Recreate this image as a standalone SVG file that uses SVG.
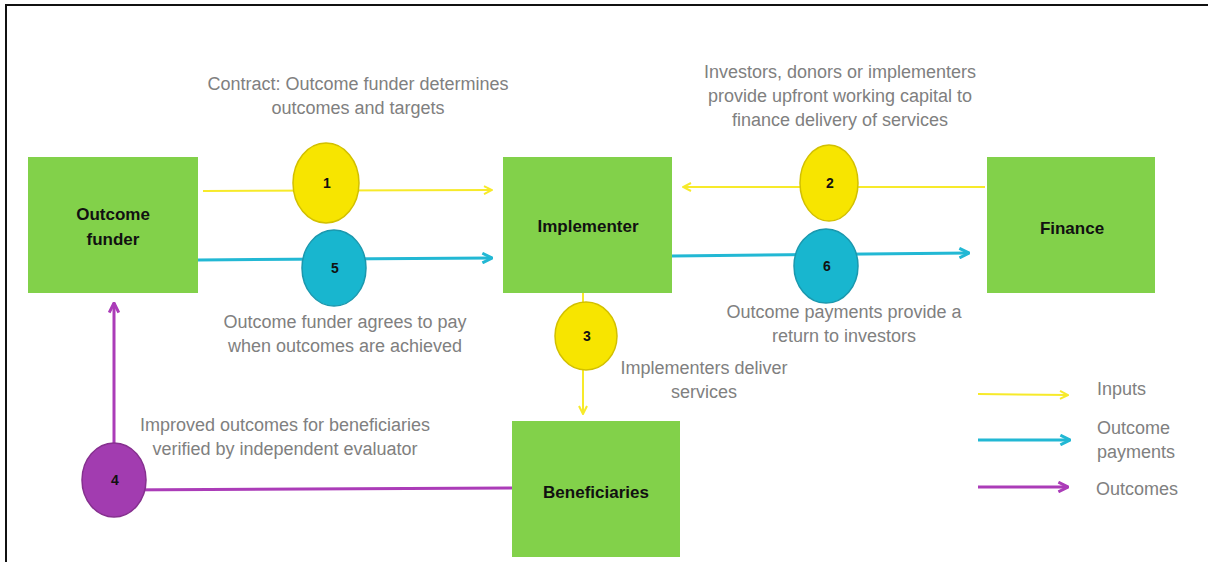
<svg xmlns="http://www.w3.org/2000/svg" width="1208" height="562" viewBox="0 0 1208 562">
<defs>
<style>
.box{fill:#82d14a;}
.lbl{font-family:"Liberation Sans",Arial,sans-serif;font-weight:bold;font-size:17px;fill:#111;text-anchor:middle;}
.num{font-family:"Liberation Sans",Arial,sans-serif;font-weight:bold;font-size:14px;fill:#111;text-anchor:middle;}
.txt{font-family:"Liberation Sans",Arial,sans-serif;font-size:18px;fill:#808080;text-anchor:middle;}
.ltxt{font-family:"Liberation Sans",Arial,sans-serif;font-size:18px;fill:#808080;}
.yl{stroke:#f7ea2a;stroke-width:2;fill:none;}
.cy{stroke:#22b8d4;stroke-width:3;fill:none;}
.pu{stroke:#ab3cb8;stroke-width:3;fill:none;}
.cy-c{fill:#18b6cf;stroke:#1a98ae;stroke-width:1.5;}
.yl-c{fill:#f7e500;stroke:#d2c000;stroke-width:1.5;}
.pu-c{fill:#a23cb0;stroke:#86308f;stroke-width:1.5;}
</style>
<marker id="ay" viewBox="0 0 10 10" refX="9" refY="5" markerWidth="10" markerHeight="10" markerUnits="userSpaceOnUse" orient="auto"><path d="M1,1 L9,5 L1,9" fill="none" stroke="#f7ea2a" stroke-width="2"/></marker>
<marker id="ac" viewBox="0 0 10 10" refX="9" refY="5" markerWidth="12" markerHeight="12" markerUnits="userSpaceOnUse" orient="auto"><path d="M1,1 L9,5 L1,9" fill="none" stroke="#22b8d4" stroke-width="2.5"/></marker>
<marker id="ap" viewBox="0 0 10 10" refX="9" refY="5" markerWidth="12" markerHeight="12" markerUnits="userSpaceOnUse" orient="auto"><path d="M1,1 L9,5 L1,9" fill="none" stroke="#ab3cb8" stroke-width="2.5"/></marker>
</defs>
<rect width="1208" height="562" fill="#fff"/>
<path d="M6,580 L6,5 L1208,5" fill="none" stroke="#111" stroke-width="2"/>

<g id="connectors">
<line class="yl" x1="203" y1="191" x2="492" y2="190" marker-end="url(#ay)"/>
<line class="cy" x1="198" y1="260" x2="492" y2="258" marker-end="url(#ac)"/>
<line class="yl" x1="985" y1="187" x2="683" y2="187" marker-end="url(#ay)"/>
<line class="cy" x1="672" y1="256" x2="969" y2="253" marker-end="url(#ac)"/>
<line class="yl" x1="583" y1="293" x2="583" y2="414" marker-end="url(#ay)"/>
<polyline class="pu" points="512,488 114,490 114,303" marker-end="url(#ap)"/>
</g>

<g id="outcome-funder"><rect class="box" x="28" y="157" width="170" height="136"/><text class="lbl" x="113" y="220">Outcome</text><text class="lbl" x="113" y="245">funder</text></g>
<g id="implementer"><rect class="box" x="503" y="157" width="169" height="136"/><text class="lbl" x="588" y="232">Implementer</text></g>
<g id="finance"><rect class="box" x="987" y="157" width="168" height="136"/><text class="lbl" x="1072" y="234">Finance</text></g>
<g id="beneficiaries"><rect class="box" x="512" y="421" width="168" height="136"/><text class="lbl" x="596" y="498">Beneficiaries</text></g>

<g id="step1"><ellipse class="yl-c" cx="326" cy="183" rx="33" ry="40"/><text class="num" x="327" y="188">1</text></g>
<g id="step5"><ellipse class="cy-c" cx="334" cy="268" rx="32" ry="38"/><text class="num" x="335" y="273">5</text></g>
<g id="step2"><ellipse class="yl-c" cx="829" cy="183" rx="29" ry="38"/><text class="num" x="830" y="188">2</text></g>
<g id="step6"><ellipse class="cy-c" cx="826" cy="266" rx="32" ry="37"/><text class="num" x="827" y="271">6</text></g>
<g id="step3"><ellipse class="yl-c" cx="586" cy="336" rx="31" ry="34"/><text class="num" x="587" y="341">3</text></g>
<g id="step4"><ellipse class="pu-c" cx="114" cy="480" rx="32" ry="37"/><text class="num" x="115" y="485">4</text></g>

<g id="labels">
<text class="txt" x="358" y="90">Contract: Outcome funder determines</text>
<text class="txt" x="358" y="114">outcomes and targets</text>
<text class="txt" x="840" y="78">Investors, donors or implementers</text>
<text class="txt" x="840" y="102">provide upfront working capital to</text>
<text class="txt" x="840" y="126">finance delivery of services</text>
<text class="txt" x="345" y="328">Outcome funder agrees to pay</text>
<text class="txt" x="345" y="352">when outcomes are achieved</text>
<text class="txt" x="844" y="318">Outcome payments provide a</text>
<text class="txt" x="844" y="342">return to investors</text>
<text class="txt" x="704" y="374">Implementers deliver</text>
<text class="txt" x="704" y="398">services</text>
<text class="txt" x="285" y="431">Improved outcomes for beneficiaries</text>
<text class="txt" x="285" y="455">verified by independent evaluator</text>
</g>

<g id="legend">
<line class="yl" x1="978" y1="394" x2="1068" y2="395" marker-end="url(#ay)"/>
<line class="cy" x1="978" y1="440" x2="1070" y2="440" marker-end="url(#ac)"/>
<line class="pu" x1="978" y1="487" x2="1068" y2="487" marker-end="url(#ap)"/>
<text class="ltxt" x="1097" y="395">Inputs</text>
<text class="ltxt" x="1097" y="434">Outcome</text>
<text class="ltxt" x="1097" y="458">payments</text>
<text class="ltxt" x="1096" y="495">Outcomes</text>
</g>
</svg>
